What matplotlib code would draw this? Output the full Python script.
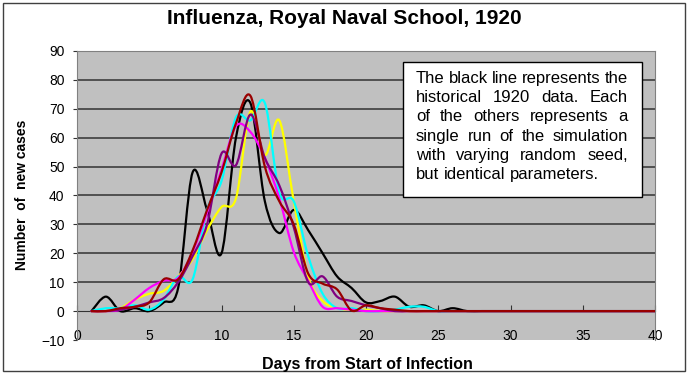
import numpy as np
import matplotlib
matplotlib.use("Agg")
import matplotlib.pyplot as plt
from matplotlib.path import Path
from matplotlib.patches import PathPatch, Rectangle

plt.rcParams["font.family"] = ["Liberation Sans", "DejaVu Sans"]

# ---------------------------------------------------------------------------
# Data, day 1..40
# ---------------------------------------------------------------------------
days = list(range(1, 41))

historical = [0, 5, 0, 1, 0, 3, 8, 48, 35, 20, 60, 72, 38, 27, 35, 28, 20, 12, 8, 3,
              3.5, 5, 1.5, 2, 0, 1, 0] + [0] * 13
run_yellow = [0, 0, 1, 4, 6, 7, 12, 18, 28, 36, 39, 69, 54, 66, 38, 12, 3.5, 1, 0.5, 0.5,
              0] + [0] * 19
run_cyan = [0, 1, 1, 2, 0.5, 4, 12, 11, 35, 45, 67, 66, 72, 41, 38, 19, 6, 1, 1, 0,
            0, 0.5, 1.5, 1.5, 0] + [0] * 15
run_magenta = [0, 0, 0.5, 4, 8, 10.5, 11.5, 20.5, 34, 49, 64, 62, 53, 39, 20.5, 10.5, 1.5, 1, 0.5, 0] + [0] * 20
run_purple = [0, 0, 0.5, 1.5, 3, 4.5, 10, 19, 30, 54.5, 50.5, 68, 53, 43.5, 29, 10, 12, 5, 3.5, 2,
              1, 0] + [0] * 18
run_maroon = [0, 0, 1, 1.5, 3, 11, 11, 21, 35, 48, 65, 74.5, 50, 38, 30, 13, 9.5, 7.5, 0.2, 2,
              1, 0.5, 0] + [0] * 17

series = [
    (historical, "black"),
    (run_yellow, "#FFFF00"),
    (run_cyan, "#00FFFF"),
    (run_magenta, "#FF00FF"),
    (run_purple, "#800080"),
    (run_maroon, "#990000"),
]

y_ticks = list(range(-10, 91, 10))
x_ticks = list(range(0, 41, 5))

note_lines = [
    "The black line represents the",
    "historical 1920 data.  Each",
    "of the others represents a",
    "single run of the simulation",
    "with varying random seed,",
    "but identical parameters.",
]


def smooth_path(x, y):
    """Excel-like smoothed line: Catmull-Rom segments as cubic Bezier curves."""
    pts = np.column_stack([x, y]).astype(float)
    n = len(pts)
    verts = [pts[0]]
    codes = [Path.MOVETO]
    for i in range(n - 1):
        p0 = pts[max(i - 1, 0)]
        p1 = pts[i]
        p2 = pts[i + 1]
        p3 = pts[min(i + 2, n - 1)]
        c1 = p1 + (p2 - p0) / 6.0
        c2 = p2 - (p3 - p1) / 6.0
        verts += [c1, c2, p2]
        codes += [Path.CURVE4] * 3
    return Path(verts, codes)


W, H = 688, 374
fig = plt.figure(figsize=(W / 100, H / 100), dpi=100)
fig.patch.set_facecolor("white")

# outer border of the chart
fig.patches.append(Rectangle((3 / W, 3 / H), (W - 6) / W, (H - 6) / H,
                             transform=fig.transFigure, fill=False,
                             edgecolor="#404040", linewidth=1.0, zorder=0))

ax = fig.add_axes([77 / W, 1 - 340 / H, 578 / W, 289 / H])
ax.set_facecolor("#C0C0C0")
ax.set_xlim(0, 40)
ax.set_ylim(-10, 90)

for yv in y_ticks[2:]:
    ax.axhline(yv, color="#333333", linewidth=1.1, zorder=1)

for vals, col in series:
    ax.add_patch(PathPatch(smooth_path(days, vals), facecolor="none",
                           edgecolor=col, linewidth=1.6, zorder=3,
                           capstyle="round", joinstyle="round"))

for s in ["top", "right", "left"]:
    ax.spines[s].set_color("#808080")
ax.spines["bottom"].set_position(("data", 0))
ax.spines["bottom"].set_color("#333333")
ax.spines["bottom"].set_zorder(2)

ax.set_xticks(x_ticks)
ax.set_yticks(y_ticks)
ax.tick_params(axis="x", direction="in", length=4, pad=13, labelsize=10, color="#333333")
ax.tick_params(axis="y", direction="out", length=3, pad=6, labelsize=10, color="#333333")

fig.text(0.5, 1 - 19 / H, "Influenza, Royal Naval School, 1920",
         ha="center", va="center", fontsize=15, fontweight="bold")
fig.text(367 / W, 1 - 364 / H, "Days from Start of Infection",
         ha="center", va="center", fontsize=11.5, fontweight="bold")
fig.text(22 / W, 1 - 195 / H, "Number  of  new cases", rotation=90,
         ha="center", va="center", fontsize=10, fontweight="bold")

# note box with justified text
fig.patches.append(Rectangle((403 / W, 1 - 197 / H), 239 / W, 135 / H,
                             transform=fig.transFigure, facecolor="white",
                             edgecolor="black", linewidth=1.0, zorder=5))
renderer = fig.canvas.get_renderer()
txt_left, txt_right = 416, 628
top_px, pitch = 71, 19.2
note_size = 12
for i, line in enumerate(note_lines):
    words = line.split()
    ypos = 1 - (top_px + i * pitch) / H
    objs = [fig.text(0, ypos, w, fontsize=note_size, va="top", ha="left", zorder=6)
            for w in words]
    widths = [o.get_window_extent(renderer).width for o in objs]
    if i < len(note_lines) - 1:
        gap = (txt_right - txt_left - sum(widths)) / (len(words) - 1)
    else:
        sp = fig.text(0, 0, "a a", fontsize=note_size)
        sa = fig.text(0, 0, "aa", fontsize=note_size)
        gap = sp.get_window_extent(renderer).width - sa.get_window_extent(renderer).width
        sp.remove()
        sa.remove()
    xpos = txt_left
    for o, w in zip(objs, widths):
        o.set_x(xpos / W)
        xpos += w + gap

fig.savefig("out.png", dpi=100)
